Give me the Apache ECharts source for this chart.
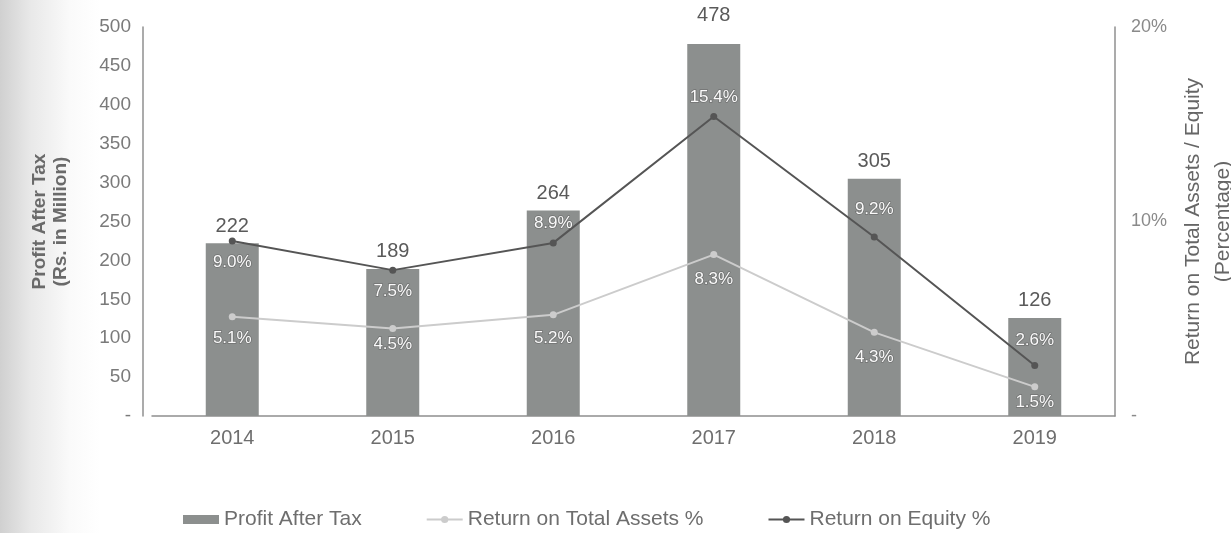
<!DOCTYPE html>
<html>
<head>
<meta charset="utf-8">
<script src="https://cdn.jsdelivr.net/npm/echarts@6/dist/echarts.min.js"></script>
<style>
  html, body { margin: 0; padding: 0; overflow: hidden; }
  body {
    width: 1231px; height: 533px;
    background: linear-gradient(to right, #d0d0d0 0px, #e8e8e8 30px, #fafafa 70px, #ffffff 100px);
  }
  #chart { width: 1231px; height: 533px; }
</style>
</head>
<body>
<div id="chart"></div>
<script>
// Yearly profit and return ratios
const years = ['2014', '2015', '2016', '2017', '2018', '2019'];
const profitAfterTax = [222, 189, 264, 478, 305, 126];          // Rs. in Million
const returnOnAssets = [5.1, 4.5, 5.2, 8.3, 4.3, 1.5];          // %
const returnOnEquity = [9.0, 7.5, 8.9, 15.4, 9.2, 2.6];         // %

// Label placement tweaks (px)
const barLabelLift = [7, 7, 7, 19, 7, 7];
const roeLabelShift = [21, 21, -20, -19, -28, -25];
const roaLabelShift = [22, 16, 23, 25, 25, 15];

const FONT = 'Liberation Sans, Arial, sans-serif';
const TEXT = '#6e6e6e';

const pctLabel = {
  show: true,
  position: 'inside',
  fontFamily: FONT,
  fontSize: 17,
  color: '#fafafa',
  textBorderColor: 'rgba(90,90,90,0.55)',
  textBorderWidth: 1.5,
  formatter: p => p.value.toFixed(1) + '%'
};

const barLabel = {
  show: true, position: 'top',
  fontFamily: FONT, fontSize: 20, color: '#5a5a5a'
};

const chart = echarts.init(document.getElementById('chart'), null, { renderer: 'canvas' });

chart.setOption({
  backgroundColor: 'transparent',
  animation: false,
  textStyle: { fontFamily: FONT },
  grid: {
    left: 152, right: 116, top: 27, bottom: 117,
    containLabel: false,
    outerBoundsMode: 'none'
  },
  legend: {
    left: 178,
    top: 504,
    itemGap: 64,
    itemWidth: 36,
    itemHeight: 9,
    textStyle: { fontFamily: FONT, fontSize: 21, color: TEXT },
    data: [
      { name: 'Profit After Tax', icon: 'rect' },
      { name: 'Return on Total Assets %' },
      { name: 'Return on Equity %' }
    ]
  },
  xAxis: {
    type: 'category',
    data: years,
    axisLine: { show: true, lineStyle: { color: '#8f8f8f', width: 1.5 } },
    axisTick: { show: false },
    axisLabel: { fontFamily: FONT, fontSize: 20, color: TEXT, margin: 12 }
  },
  yAxis: [
    {
      type: 'value',
      min: 0, max: 500, interval: 50,
      offset: 9,
      name: 'Profit After Tax\n(Rs. in Million)',
      nameLocation: 'middle',
      nameRotate: 90,
      nameGap: 72,
      nameTextStyle: { fontFamily: FONT, fontSize: 19, fontWeight: 'bold', color: '#6a6a6a', lineHeight: 21 },
      axisLine: { show: true, lineStyle: { color: '#8f8f8f', width: 1.5 } },
      axisTick: { show: false },
      splitLine: { show: false },
      axisLabel: {
        fontFamily: FONT, fontSize: 19, color: '#7a7a7a', margin: 12,
        formatter: v => (v === 0 ? '-' : String(v))
      }
    },
    {
      type: 'value',
      min: 0, max: 20, interval: 10,
      name: 'Return on Total Assets / Equity\n(Percentage)',
      nameLocation: 'middle',
      nameRotate: 90,
      nameGap: 58,
      nameTextStyle: { fontFamily: FONT, fontSize: 21, color: '#666', lineHeight: 30 },
      axisLine: { show: true, lineStyle: { color: '#8f8f8f', width: 1.5 } },
      axisTick: { show: false },
      splitLine: { show: false },
      axisLabel: {
        fontFamily: FONT, fontSize: 18, color: '#8a8a8a', margin: 16,
        formatter: v => (v === 0 ? '-' : v + '%')
      }
    }
  ],
  series: [
    {
      name: 'Profit After Tax',
      type: 'bar',
      data: profitAfterTax.map((v, i) => ({
        value: v,
        label: Object.assign({}, barLabel, { distance: barLabelLift[i] })
      })),
      barWidth: 53,
      itemStyle: { color: '#8c8f8e' },
      label: barLabel
    },
    {
      name: 'Return on Total Assets %',
      type: 'line',
      yAxisIndex: 1,
      data: returnOnAssets.map((v, i) => ({
        value: v,
        label: Object.assign({}, pctLabel, { offset: [0, roaLabelShift[i]] })
      })),
      symbol: 'circle',
      symbolSize: 7,
      lineStyle: { color: '#cccccc', width: 2 },
      itemStyle: { color: '#cccccc' },
      z: 3
    },
    {
      name: 'Return on Equity %',
      type: 'line',
      yAxisIndex: 1,
      data: returnOnEquity.map((v, i) => ({
        value: v,
        label: Object.assign({}, pctLabel, { offset: [0, roeLabelShift[i]] })
      })),
      symbol: 'circle',
      symbolSize: 7,
      lineStyle: { color: '#555555', width: 2 },
      itemStyle: { color: '#555555' },
      z: 4
    }
  ]
});
</script>
</body>
</html>
